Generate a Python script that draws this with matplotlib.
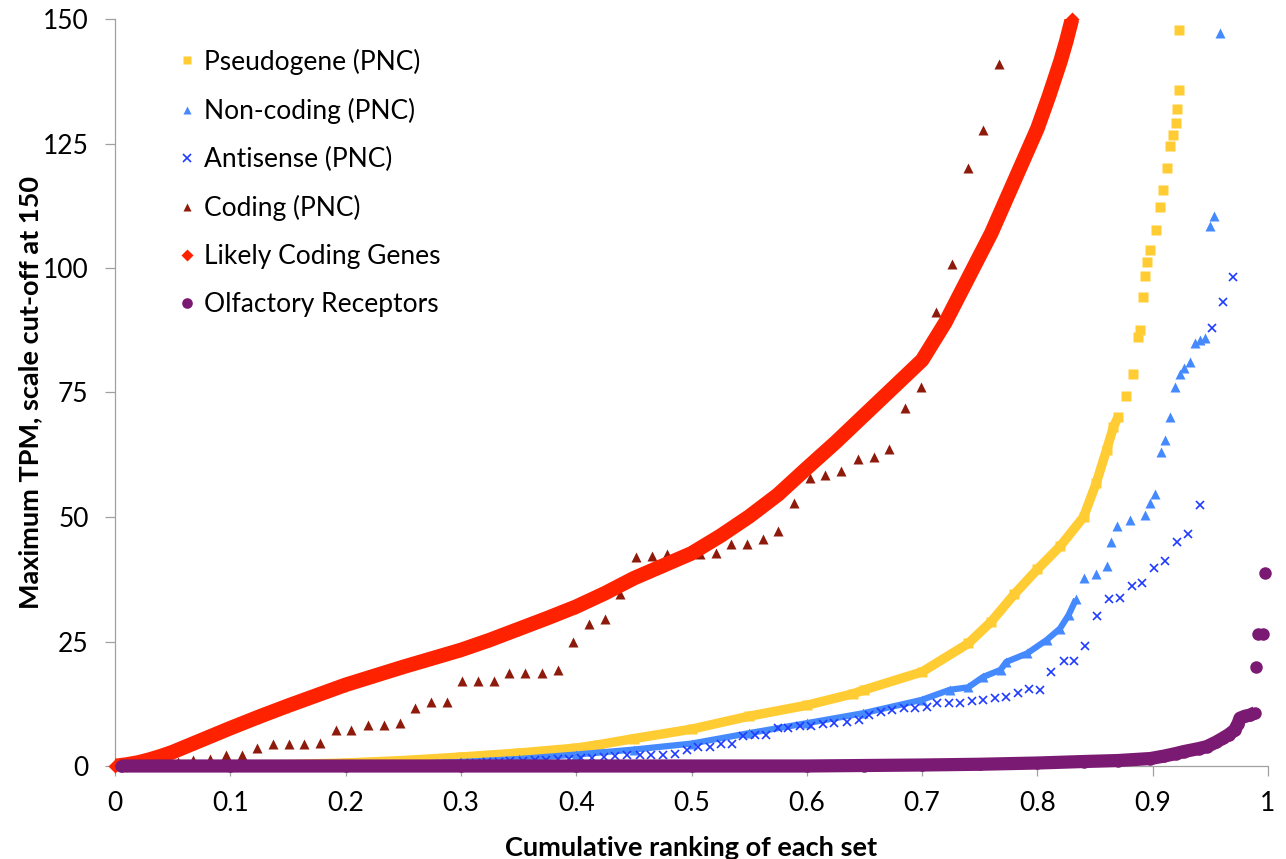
import matplotlib
matplotlib.use('Agg')
import matplotlib.pyplot as plt

plt.rcParams['font.family'] = ['Lato', 'DejaVu Sans']

# ---------------- data ----------------
pseudo_x = [0.0, 0.05, 0.1, 0.15, 0.2, 0.25, 0.3, 0.35, 0.4, 0.42, 0.45, 0.5, 0.55, 0.6,
            0.64, 0.65, 0.7, 0.74, 0.76, 0.78, 0.8, 0.82, 0.84, 0.851, 0.86, 0.866, 0.87,
            0.877, 0.883, 0.8875, 0.889, 0.892, 0.893, 0.895, 0.898, 0.903, 0.906, 0.909,
            0.912, 0.915, 0.918, 0.920, 0.921, 0.9226, 0.923]
pseudo_y = [0.0, 0.0, 0.1, 0.3, 0.6, 1.1, 1.8, 2.6, 3.6, 4.3, 5.5, 7.4, 10.0, 12.2,
            14.5, 15.3, 18.9, 24.6, 29.0, 34.5, 39.5, 44.2, 50.0, 56.8, 63.5, 68.1, 70.1,
            74.2, 78.8, 86.2, 87.6, 94.1, 98.3, 101.3, 103.6, 107.6, 112.3, 115.7,
            120.0, 124.4, 126.7, 129.2, 131.9, 135.7, 147.8]

noncod_x = [0.0, 0.1, 0.2, 0.25, 0.3, 0.35, 0.4, 0.45, 0.5, 0.55, 0.6, 0.649, 0.7, 0.724,
            0.74, 0.753, 0.768, 0.773, 0.791, 0.808, 0.8196, 0.827, 0.8335, 0.840, 0.851,
            0.860, 0.864, 0.869, 0.880, 0.893, 0.898, 0.902, 0.907, 0.911, 0.915, 0.919,
            0.924, 0.927, 0.932, 0.937, 0.941, 0.945, 0.9497, 0.953, 0.958]
noncod_y = [0.0, 0.0, 0.2, 0.4, 0.8, 1.4, 2.3, 3.3, 4.5, 6.6, 8.6, 10.6, 13.3, 15.3,
            15.8, 17.9, 19.3, 20.9, 22.6, 25.3, 27.6, 30.3, 33.5, 37.7, 38.6,
            40.2, 44.9, 48.1, 49.4, 50.4, 52.9, 54.7, 63.0, 65.4, 70.0, 76.2,
            78.7, 79.9, 81.2, 84.9, 85.5, 85.9, 108.4, 110.5, 147.1]

anti_x = [0.263, 0.273, 0.283, 0.293, 0.303, 0.313, 0.323, 0.333, 0.343, 0.354, 0.364,
          0.374, 0.384, 0.394, 0.404, 0.414, 0.424, 0.434, 0.444, 0.455, 0.465, 0.475,
          0.486, 0.496, 0.506, 0.516, 0.526, 0.535, 0.545, 0.555, 0.565, 0.575, 0.584,
          0.594, 0.604, 0.614, 0.624, 0.635, 0.645, 0.654, 0.664, 0.674, 0.684, 0.694,
          0.704, 0.713, 0.723, 0.733, 0.743, 0.753, 0.763, 0.773, 0.783, 0.793, 0.802,
          0.812, 0.823, 0.832, 0.841, 0.852, 0.862, 0.872, 0.882, 0.891, 0.901, 0.911,
          0.921, 0.931, 0.941, 0.951, 0.961, 0.970]
anti_y = [0.2, 0.3, 0.4, 0.5, 0.6, 0.7, 0.8, 0.9, 1.0, 1.1, 1.2,
          1.3, 1.4, 1.5, 1.6, 1.7, 1.9, 2.1, 2.2, 2.2, 2.2, 2.3,
          2.4, 3.3, 3.9, 3.9, 4.5, 4.5, 6.0, 6.2, 6.2, 7.6, 7.7,
          8.0, 8.0, 8.4, 8.6, 8.9, 9.2, 10.3, 10.9, 11.2, 11.6, 11.6,
          11.8, 12.6, 12.6, 12.7, 13.0, 13.3, 13.6, 13.8, 14.6, 15.5, 15.3,
          18.9, 21.1, 21.1, 24.0, 30.1, 33.5, 33.7, 36.2, 36.8, 39.7, 41.2,
          45.0, 46.6, 52.4, 87.9, 93.2, 98.1]

coding_x = [0.014, 0.027, 0.041, 0.055, 0.068, 0.082, 0.096, 0.110, 0.123, 0.137, 0.151,
            0.164, 0.178, 0.192, 0.205, 0.219, 0.233, 0.247, 0.260, 0.274, 0.288, 0.301,
            0.315, 0.329, 0.342, 0.356, 0.370, 0.384, 0.397, 0.411, 0.425, 0.438, 0.452,
            0.466, 0.479, 0.493, 0.507, 0.521, 0.534, 0.548, 0.562, 0.575, 0.589, 0.603,
            0.616, 0.630, 0.644, 0.658, 0.671, 0.685, 0.699, 0.712, 0.726, 0.740, 0.753,
            0.767]
coding_y = [0.0, 0.0, 0.3, 0.9, 1.2, 1.4, 2.2, 2.3, 3.7, 4.5, 4.5,
            4.5, 4.6, 7.2, 7.2, 8.2, 8.2, 8.6, 11.6, 12.8, 12.8, 17.1,
            17.1, 17.1, 18.6, 18.6, 18.6, 19.3, 24.8, 28.5, 29.5, 34.5, 42.0,
            42.2, 42.5, 42.6, 42.6, 42.8, 44.5, 44.6, 45.5, 47.2, 52.8, 57.8,
            58.4, 59.3, 61.6, 62.0, 63.7, 71.8, 76.2, 91.2, 100.8, 120.0, 127.7,
            141.0]

likely_x = [0.0, 0.01, 0.02, 0.03, 0.04, 0.05, 0.075, 0.1, 0.125, 0.15, 0.175, 0.2,
            0.225, 0.25, 0.275, 0.3, 0.325, 0.35, 0.375, 0.4, 0.425, 0.45, 0.475, 0.5,
            0.525, 0.55, 0.575, 0.6, 0.625, 0.65, 0.675, 0.7, 0.72, 0.74, 0.76, 0.78,
            0.8, 0.81, 0.82, 0.825, 0.83]
likely_y = [0.0, 0.3, 0.7, 1.3, 2.0, 2.8, 5.2, 7.6, 9.9, 12.1, 14.2, 16.3,
            18.1, 19.9, 21.6, 23.3, 25.3, 27.5, 29.7, 32.0, 34.7, 37.7, 40.2, 42.7,
            46.2, 50.1, 54.5, 59.8, 65.0, 70.5, 76.0, 81.5, 89.0, 98.0, 107.0, 117.5,
            128.0, 134.5, 141.5, 145.5, 150.0]

olf_x = [0.005, 0.1, 0.2, 0.3, 0.4, 0.5, 0.6, 0.65, 0.7, 0.75, 0.8, 0.84, 0.87, 0.898,
         0.91, 0.92, 0.927, 0.94, 0.947, 0.955, 0.961, 0.966, 0.971, 0.974, 0.9757,
         0.98, 0.984, 0.989, 0.990, 0.9915, 0.9955, 0.997]
olf_y = [0.0, 0.0, 0.0, 0.0, 0.0, 0.0, 0.0, 0.1, 0.2, 0.35, 0.6, 0.9, 1.1, 1.5,
         2.0, 2.5, 2.9, 3.5, 3.9, 4.8, 5.6, 6.3, 7.2, 8.5, 9.6,
         10.0, 10.2, 10.7, 19.9, 26.6, 26.6, 38.8]

labels = ['Pseudogene (PNC)', 'Non-coding (PNC)', 'Antisense (PNC)', 'Coding (PNC)',
          'Likely Coding Genes', 'Olfactory Receptors']
x_ticks = [0, 0.1, 0.2, 0.3, 0.4, 0.5, 0.6, 0.7, 0.8, 0.9, 1]
x_ticklabels = ['0', '0.1', '0.2', '0.3', '0.4', '0.5', '0.6', '0.7', '0.8', '0.9', '1']
y_ticks = [0, 25, 50, 75, 100, 125, 150]

# ---------------- styling ----------------
C_PSEUDO = '#FFCC33'
C_NONCOD = '#4589FF'
C_ANTI = '#1F3BFF'
C_CODING = '#8E1A0C'
C_LIKELY = '#FF2200'
C_OLF = '#7B1A73'

fig = plt.figure(figsize=(12.86, 8.59), dpi=100)
ax = fig.add_axes([115 / 1286, 93 / 859, 1153 / 1286, 747 / 859])


def band(xs, ys, until, color, lw, z, clip=True):
    bx = [x for x in xs if x <= until]
    by = ys[:len(bx)]
    ax.plot(bx, by, '-', color=color, lw=lw, solid_capstyle='butt',
            solid_joinstyle='round', zorder=z, clip_on=clip)


# Pseudogene
band(pseudo_x, pseudo_y, 0.87, C_PSEUDO, 6.8, 2)
h1, = ax.plot(pseudo_x, pseudo_y, 's', color=C_PSEUDO, ms=6.7, mec='none', zorder=2,
              label=labels[0])
# Non-coding
band(noncod_x, noncod_y, 0.834, C_NONCOD, 4.5, 3)
h2, = ax.plot(noncod_x, noncod_y, '^', color=C_NONCOD, ms=6.7, mec='none', zorder=3,
              label=labels[1])
# Antisense
h3, = ax.plot(anti_x, anti_y, 'x', color=C_ANTI, ms=6, mew=1.2, zorder=4, label=labels[2])
# Coding
h4, = ax.plot(coding_x, coding_y, '^', color=C_CODING, ms=7, mec='none', zorder=5,
              label=labels[3])
# Likely coding
band(likely_x, likely_y, 1.0, C_LIKELY, 10.5, 6)
h5, = ax.plot(likely_x, likely_y, 'D', color=C_LIKELY, ms=7.5, mec='none', zorder=6,
              label=labels[4], clip_on=False)
# Olfactory
band(olf_x, olf_y, 0.989, C_OLF, 9.5, 7, clip=False)
h6, = ax.plot(olf_x, olf_y, 'o', color=C_OLF, ms=9, mec='none', zorder=7, label=labels[5],
              clip_on=False)

ax.set_xlim(0, 1)
ax.set_ylim(0, 150)
ax.set_xticks(x_ticks)
ax.set_xticklabels(x_ticklabels)
ax.set_yticks(y_ticks)

for s in ['top', 'right']:
    ax.spines[s].set_visible(False)
for s in ['left', 'bottom']:
    ax.spines[s].set_color('#A0A0A0')
    ax.spines[s].set_linewidth(0.9)
    ax.spines[s].set_zorder(1)

ax.tick_params(axis='both', which='major', direction='out', length=7, width=0.9,
               color='#A0A0A0', labelsize=19, labelcolor='black')
ax.tick_params(axis='y', pad=12)
ax.tick_params(axis='x', pad=11)

ax.set_xlabel('Cumulative ranking of each set', fontsize=19.5, fontweight='bold',
              va='center')
ax.xaxis.set_label_coords(0.5, (766 - 848) / 747)
ax.set_ylabel('Maximum TPM, scale cut-off at 150', fontsize=19.5, fontweight='bold',
              va='center')
ax.yaxis.set_label_coords((30 - 115) / 1153, 0.5)

leg = ax.legend(handles=[h1, h2, h3, h4, h5, h6], loc='upper left',
                bbox_to_anchor=((179 - 115) / 1153, (766 - 48.6) / 747),
                frameon=False, fontsize=19, handlelength=0.6, handletextpad=0.34,
                borderpad=0, borderaxespad=0, labelspacing=0.87, markerscale=0.85)

fig.savefig('out.png', dpi=100)
